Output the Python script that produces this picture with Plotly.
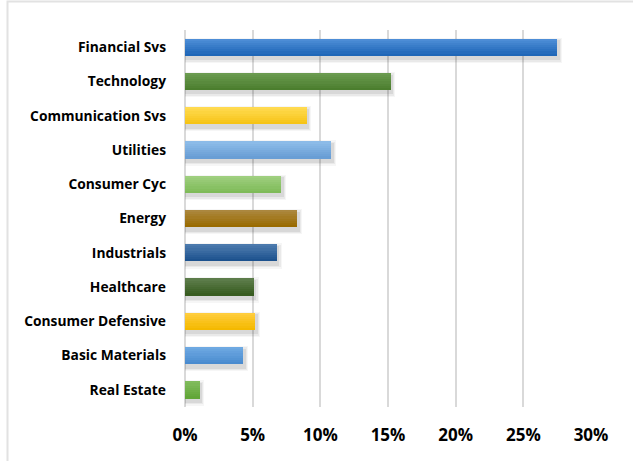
import plotly.graph_objects as go

categories = ["Financial Svs", "Technology", "Communication Svs", "Utilities",
              "Consumer Cyc", "Energy", "Industrials", "Healthcare",
              "Consumer Defensive", "Basic Materials", "Real Estate"]
weights = [27.5, 15.2, 9.0, 10.8, 7.1, 8.3, 6.8, 5.1, 5.2, 4.3, 1.1]
tick_vals = [0, 5, 10, 15, 20, 25, 30]
tick_text = ["0%", "5%", "10%", "15%", "20%", "25%", "30%"]

top_colors = ["#4d8dd6", "#6b9b50", "#ffda50", "#8cbbe8", "#9fcf7f", "#ab873e",
              "#4c7aad", "#5c7c4a", "#ffcd3d", "#6ea9e2", "#80bb5c"]
bot_colors = ["#1f67b8", "#4b7e2e", "#f6c416", "#699ed5", "#7fbb59", "#9a6b00",
              "#1d528e", "#385c20", "#f4b900", "#4a8bcf", "#62a638"]

W, H = 633, 461
ML, MR, MT, MB = 185, 42, 30, 54
BAR_W = 0.5
N = 8


def hx(c):
    c = c.lstrip("#")
    return [int(c[i:i + 2], 16) for i in (0, 2, 4)]


def mix(a, b, t):
    a, b = hx(a), hx(b)
    return "rgb(%d,%d,%d)" % tuple(round(a[k] + (b[k] - a[k]) * t) for k in range(3))


ypos = list(range(len(categories)))
fig = go.Figure()

# soft drop shadow
for s, alpha in [(0.12, 0.035), (0.08, 0.05), (0.04, 0.07)]:
    fig.add_trace(go.Bar(
        y=ypos, x=[v + 0.1 + s * 2 for v in weights], orientation="h",
        width=BAR_W + 2 * s, offset=-BAR_W / 2 + 0.09 - s,
        marker=dict(color="rgba(0,0,0,%.3f)" % alpha, line=dict(width=0)),
        hoverinfo="skip", showlegend=False))

# gradient bars (light at top, dark at bottom)
for i in range(N):
    t = i / (N - 1)
    fig.add_trace(go.Bar(
        y=ypos, x=weights, orientation="h",
        width=BAR_W / N + 0.002, offset=-BAR_W / 2 + i * BAR_W / N,
        marker=dict(color=[mix(a, b, t) for a, b in zip(top_colors, bot_colors)],
                    line=dict(width=0)),
        hoverinfo="skip" if i else "x+y", showlegend=False))

py = lambda p: 1 + (MT - p) / (H - MT - MB)
px = lambda p: (p - ML) / (W - ML - MR)
fig.add_shape(type="rect", xref="paper", yref="paper",
              x0=px(7.5), y0=py(H + 20), x1=px(W + 20), y1=py(1.5),
              line=dict(color="#e2e2e2", width=2), layer="below")

fig.update_layout(
    width=W, height=H, barmode="overlay", bargap=0,
    margin=dict(l=ML, r=MR, t=MT, b=MB),
    paper_bgcolor="white", plot_bgcolor="white",
    font=dict(family="Open Sans", color="#000000"),
    xaxis=dict(range=[0, 30], tickvals=tick_vals, ticktext=tick_text,
               showgrid=True, gridcolor="#d9d9d9", gridwidth=2,
               zeroline=True, zerolinecolor="#d9d9d9", zerolinewidth=2,
               showline=False, ticks="", ticklabelstandoff=16,
               tickfont=dict(size=17, family="Open Sans", weight="bold")),
    yaxis=dict(tickvals=ypos, ticktext=categories, range=[10.5, -0.5],
               showgrid=False, zeroline=False, showline=False, ticks="",
               ticklabelstandoff=18,
               tickfont=dict(size=13.8, family="Open Sans", weight="bold")),
)

fig.write_html("out.html", config={"displayModeBar": False},
               post_script="document.body.style.margin='0';document.body.style.overflow='hidden';")
